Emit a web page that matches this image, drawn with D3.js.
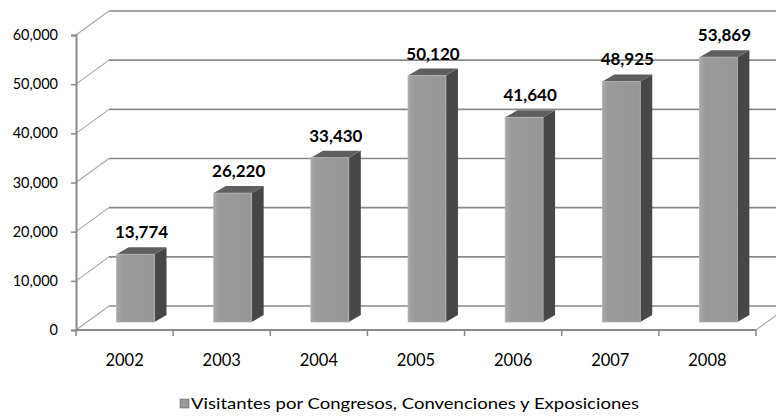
<!DOCTYPE html>
<html>
<head>
<meta charset="utf-8">
<script src="https://cdn.jsdelivr.net/npm/d3@7"></script>
<style>
  body { margin: 0; background: #fff; }
</style>
</head>
<body>
<script>
const years = ["2002", "2003", "2004", "2005", "2006", "2007", "2008"];
const visitors = [13774, 26220, 33430, 50120, 41640, 48925, 53869];
const yTicks = [0, 10000, 20000, 30000, 40000, 50000, 60000];
const seriesName = "Visitantes por Congresos, Convenciones y Exposiciones";

const width = 776, height = 417;
const font = "Lato, 'Open Sans', sans-serif";

// 3d box: back wall is shifted by (dx, dy) from the front plane
const wallDx = 33, wallDy = -24;
// bars sit a third of the way in, and have their own depth
const barDx = 11, barDy = -8;
const depthDx = 12, depthDy = -7;

const svg = d3.select("body").append("svg")
    .attr("width", width)
    .attr("height", height);

const x = d3.scaleBand()
    .domain(years)
    .range([76, 756])
    .paddingInner(0.61)
    .paddingOuter(0.305);

const y = d3.scaleLinear()
    .domain([0, 60000])
    .range([330, 35]);

const fmt = d3.format(",");
const gridColor = "#8a8a8a";

// back wall gridlines + side wall diagonals
const grid = svg.append("g");
yTicks.forEach(t => {
    grid.append("line")
        .attr("x1", 76 + wallDx).attr("x2", 756 + wallDx)
        .attr("y1", y(t) + wallDy).attr("y2", y(t) + wallDy)
        .attr("stroke", gridColor).attr("stroke-width", 1.6);
    grid.append("line")
        .attr("x1", 76).attr("x2", 76 + wallDx)
        .attr("y1", y(t)).attr("y2", y(t) + wallDy)
        .attr("stroke", "#a4a4a4").attr("stroke-width", 1.1);
});
// right floor edge
grid.append("line")
    .attr("x1", 756).attr("x2", 756 + wallDx)
    .attr("y1", y(0)).attr("y2", y(0) + wallDy)
    .attr("stroke", "#a4a4a4").attr("stroke-width", 1.1);

// front axes
const yAxis = d3.axisLeft(y).tickValues(yTicks).tickFormat(fmt).tickSize(5).tickPadding(13);
const yG = svg.append("g").attr("transform", "translate(76,0)").call(yAxis);
yG.select(".domain").attr("stroke", gridColor).attr("stroke-width", 2);
yG.selectAll(".tick line").attr("stroke", gridColor).attr("stroke-width", 1.5);
yG.selectAll(".tick text")
    .attr("font-family", font).attr("font-size", "14.5px").attr("fill", "#000");

const xEdges = d3.scaleLinear().domain([0, years.length]).range([76, 756]);
const xG = svg.append("g");
xG.append("line")
    .attr("x1", 76).attr("x2", 756)
    .attr("y1", y(0)).attr("y2", y(0))
    .attr("stroke", gridColor).attr("stroke-width", 2);
d3.range(years.length + 1).forEach(i => {
    xG.append("line")
        .attr("x1", xEdges(i)).attr("x2", xEdges(i))
        .attr("y1", y(0)).attr("y2", y(0) + 6)
        .attr("stroke", gridColor).attr("stroke-width", 1.5);
});
xG.selectAll("text.year")
    .data(years)
    .join("text")
    .attr("class", "year")
    .attr("x", d => x(d) + x.bandwidth() / 2)
    .attr("y", 366)
    .attr("text-anchor", "middle")
    .attr("font-family", font)
    .attr("font-size", "16.5px")
    .attr("fill", "#000")
    .text(d => d);

// bars
const defs = svg.append("defs");
const frontGrad = defs.append("linearGradient").attr("id", "front");
frontGrad.append("stop").attr("offset", "0%").attr("stop-color", "#a8a8a8");
frontGrad.append("stop").attr("offset", "15%").attr("stop-color", "#9b9b9b");
frontGrad.append("stop").attr("offset", "100%").attr("stop-color", "#979797");

const bars = svg.append("g");
years.forEach((yr, i) => {
    const v = visitors[i];
    const x0 = x(yr) + barDx;
    const w = x.bandwidth();
    const yTop = y(v) + barDy;
    const yBot = y(0) + barDy;
    const g = bars.append("g");

    // side face
    g.append("path")
        .attr("d", `M${x0 + w},${yTop} L${x0 + w + depthDx},${yTop + depthDy} L${x0 + w + depthDx},${yBot + depthDy} L${x0 + w},${yBot} Z`)
        .attr("fill", "#474747");
    // top face
    g.append("path")
        .attr("d", `M${x0},${yTop} L${x0 + depthDx},${yTop + depthDy} L${x0 + w + depthDx},${yTop + depthDy} L${x0 + w},${yTop} Z`)
        .attr("fill", "#5f5f5f");
    // front face
    g.append("rect")
        .attr("x", x0).attr("y", yTop)
        .attr("width", w).attr("height", yBot - yTop)
        .attr("fill", "url(#front)")
        .attr("stroke", "#b2b2b2").attr("stroke-width", 0.8);

    g.append("text")
        .attr("x", x0 + (w + depthDx) / 2)
        .attr("y", yTop + depthDy - 9)
        .attr("text-anchor", "middle")
        .attr("font-family", font)
        .attr("font-size", "17px")
        .attr("font-weight", "bold")
        .attr("fill", "#000")
        .text(fmt(v));
});

// legend
const legend = svg.append("g").attr("transform", "translate(180,399)");
legend.append("rect")
    .attr("x", 0).attr("y", 0).attr("width", 9).attr("height", 9)
    .attr("fill", "#9a9a9a").attr("stroke", "#6a6a6a").attr("stroke-width", 0.6);
legend.append("text")
    .attr("x", 11).attr("y", 10)
    .attr("font-family", font)
    .attr("font-size", "16px")
    .attr("textLength", 448)
    .attr("lengthAdjust", "spacingAndGlyphs")
    .attr("fill", "#000")
    .text(seriesName);
</script>
</body>
</html>
